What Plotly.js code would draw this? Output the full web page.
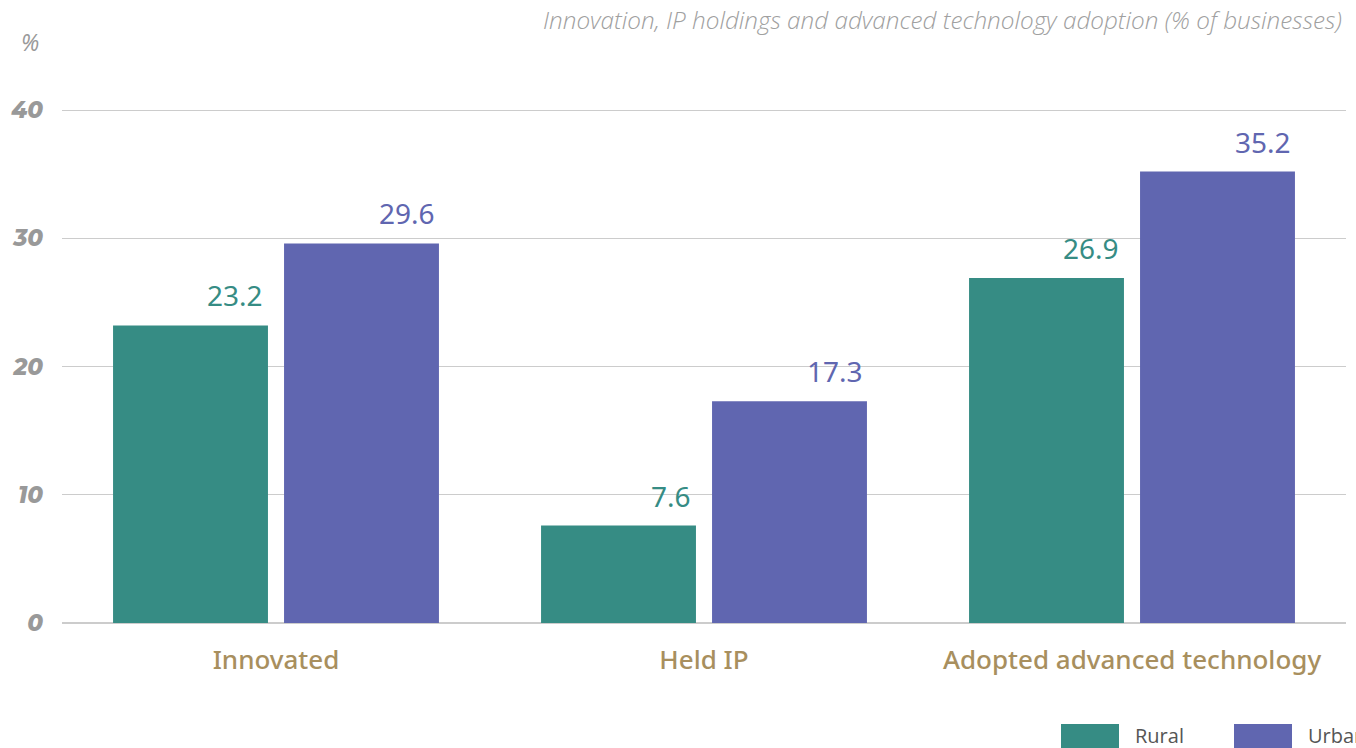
<!DOCTYPE html>
<html>
<head>
<meta charset="utf-8">
<script src="https://cdn.plot.ly/plotly-3.0.1.min.js"></script>
<style>html,body{margin:0;padding:0;background:#fff;}#chart{width:1356px;height:748px;}</style>
</head>
<body>
<div id="chart"></div>
<script>
const categories = ["Innovated", "Held IP", "Adopted advanced technology"];
const seriesNames = ["Rural", "Urban"];
const rural = [23.2, 7.6, 26.9];
const urban = [29.6, 17.3, 35.2];
const yTicks = [0, 10, 20, 30, 40];
const titleText = "Innovation, IP holdings and advanced technology adoption (% of businesses)";
const unitLabel = "%";

const colors = ["#368c84", "#6066b0"];
const series = [rural, urban];

const traces = series.map((vals, i) => ({
  type: "bar",
  name: seriesNames[i],
  x: categories,
  y: vals,
  marker: {color: colors[i]},
  hoverinfo: "skip",
  showlegend: false
}));

// value labels: right-aligned at each bar's right edge
const annotations = [];
const xshifts = [-11, 161];
series.forEach((vals, i) => {
  vals.forEach((v, j) => {
    annotations.push({
      x: categories[j], y: v, xref: "x", yref: "y",
      text: v.toFixed(1), showarrow: false,
      xanchor: "right", yanchor: "bottom",
      xshift: xshifts[i], yshift: 9,
      font: {family: "Noto Sans, Open Sans, sans-serif", size: 28, color: colors[i]}
    });
  });
});

// title (top right)
annotations.push({
  xref: "paper", yref: "paper", x: 1.0, y: 1,
  xanchor: "right", yanchor: "bottom", yshift: 71, xshift: -2,
  text: titleText, showarrow: false,
  font: {family: "Open Sans, Noto Sans, sans-serif", size: 24.3, color: "#a0a0a0", style: "italic", weight: 300}
});
// unit label
annotations.push({
  xref: "paper", yref: "paper", x: 0, y: 1,
  xanchor: "right", yanchor: "middle", xshift: -21, yshift: 67,
  text: unitLabel, showarrow: false,
  font: {family: "Open Sans, sans-serif", size: 23, color: "#999999", style: "italic"}
});

// custom legend at the bottom right
const shapes = [];
const legendX = [1061, 1234];
const plotH = 748 - 109 - 125;
seriesNames.forEach((n, i) => {
  shapes.push({
    type: "rect", xref: "paper", yref: "paper",
    x0: (legendX[i] - 62) / 1284, x1: (legendX[i] + 58 - 62) / 1284,
    y0: (623 - 748) / plotH, y1: (623 - 724) / plotH,
    fillcolor: colors[i], line: {width: 0}
  });
  annotations.push({
    xref: "paper", yref: "paper",
    x: (legendX[i] + 72 - 62) / 1284, y: (623 - 735) / plotH,
    xanchor: "left", yanchor: "middle",
    text: n, showarrow: false,
    font: {family: "Open Sans, Noto Sans, sans-serif", size: 20, color: "#555555"}
  });
});

const layout = {
  width: 1356, height: 748,
  margin: {l: 62, r: 10, t: 109, b: 125},
  paper_bgcolor: "#ffffff", plot_bgcolor: "#ffffff",
  barmode: "group", bargap: 0.201, bargroupgap: 0.094,
  showlegend: false,
  xaxis: {
    type: "category",
    tickfont: {family: "Noto Sans, Open Sans, sans-serif", size: 26, color: "#a88f5e", weight: 500},
    showgrid: false, zeroline: false, showline: false, ticks: "",
    ticklabelstandoff: 19, fixedrange: true
  },
  yaxis: {
    range: [0, 40.08], tickvals: yTicks, ticktext: yTicks.map(String),
    tickfont: {family: "Montserrat, Open Sans, sans-serif", size: 23, color: "#999999", style: "italic", weight: 800},
    showgrid: true, gridcolor: "#cccccc", gridwidth: 1,
    zeroline: true, zerolinecolor: "#cccccc", zerolinewidth: 2,
    showline: false, ticks: "", ticklabelstandoff: 18, fixedrange: true
  },
  annotations: annotations,
  shapes: shapes
};

Plotly.newPlot("chart", traces, layout, {displayModeBar: false, staticPlot: true});
</script>
</body>
</html>
